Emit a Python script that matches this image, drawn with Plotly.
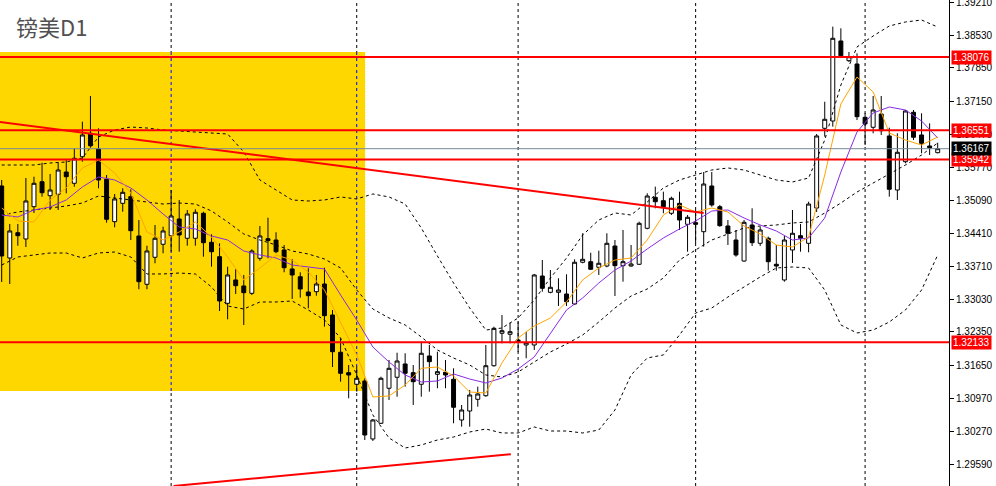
import plotly.graph_objects as go

# ---------------- data ----------------
opens = [1.3539, 1.33889, 1.34416, 1.34285, 1.34958, 1.35479, 1.35187, 1.35217, 1.35681, 1.35446,
         1.36, 1.36488, 1.36161, 1.35529, 1.34646, 1.35029, 1.35167, 1.34348, 1.33341, 1.33904,
         1.34175, 1.34354, 1.34702, 1.343, 1.343, 1.34821, 1.34216, 1.33916, 1.32945, 1.33431,
         1.33306, 1.33153, 1.33883, 1.34291, 1.34264, 1.34056, 1.3366, 1.33499, 1.3318, 1.33187,
         1.33347, 1.32701, 1.31924, 1.31499, 1.31257, 1.31326, 1.30117, 1.30444, 1.31174, 1.31403,
         1.3168, 1.31499, 1.31257, 1.31847, 1.31465, 1.31507, 1.31361, 1.30513, 1.307, 1.30944,
         1.31019, 1.31644, 1.3232, 1.32299, 1.3218, 1.32076, 1.32076, 1.33514, 1.33174, 1.33174,
         1.33139, 1.3293, 1.338, 1.33812, 1.33695, 1.33722, 1.34139, 1.33729, 1.33722, 1.33758,
         1.34508, 1.35154, 1.35083, 1.34821, 1.35029, 1.34591, 1.34625, 1.34437, 1.3539, 1.34958,
         1.34556, 1.34264, 1.33826, 1.34577, 1.34195, 1.343, 1.33758, 1.33431, 1.34056, 1.34354,
         1.34195, 1.34931, 1.36592, 1.36744, 1.38412, 1.38001, 1.37932, 1.36821, 1.36613, 1.3689,
         1.36432, 1.35306, 1.35896, 1.36926, 1.36453, 1.36223, 1.36084]
highs = [1.35515, 1.34598, 1.34598, 1.35556, 1.35583, 1.35875, 1.3564, 1.35875, 1.35931, 1.36175,
         1.3673, 1.37265, 1.36592, 1.35619, 1.35223, 1.35342, 1.35321, 1.34681, 1.34145, 1.34577,
         1.34541, 1.35306, 1.35098, 1.34889, 1.34904, 1.34854, 1.34383, 1.34195, 1.33708, 1.33654,
         1.33535, 1.3407, 1.34556, 1.34729, 1.34425, 1.3416, 1.33868, 1.33591, 1.33674, 1.33535,
         1.33687, 1.32805, 1.32216, 1.31659, 1.31624, 1.31382, 1.30534, 1.31415, 1.31763, 1.31915,
         1.31903, 1.31659, 1.32145, 1.32076, 1.31936, 1.31763, 1.3159, 1.30825, 1.31138, 1.31207,
         1.32076, 1.32457, 1.32701, 1.32541, 1.32561, 1.32353, 1.33556, 1.33847, 1.33639, 1.33466,
         1.33549, 1.33862, 1.34404, 1.33999, 1.34041, 1.34404, 1.34264, 1.34473, 1.3416, 1.34646,
         1.35237, 1.35375, 1.35271, 1.35167, 1.35271, 1.34785, 1.34889, 1.35681, 1.35681, 1.34994,
         1.34681, 1.34473, 1.34681, 1.34925, 1.34541, 1.34333, 1.3416, 1.34348, 1.34889, 1.34598,
         1.35062, 1.36473, 1.37146, 1.3871, 1.38676, 1.38182, 1.38155, 1.36911, 1.37265, 1.37265,
         1.36605, 1.36488, 1.36974, 1.36974, 1.36905, 1.36696, 1.36292]
lows = [1.33389, 1.33347, 1.34145, 1.34118, 1.34827, 1.35167, 1.34889, 1.34889, 1.35237, 1.35375,
        1.35896, 1.36188, 1.35342, 1.34625, 1.34529, 1.34854, 1.34264, 1.33237, 1.33237, 1.33779,
        1.33987, 1.3402, 1.3402, 1.34145, 1.34145, 1.33916, 1.33708, 1.32784, 1.32612, 1.33139,
        1.32493, 1.33118, 1.33833, 1.33883, 1.33987, 1.33591, 1.33035, 1.33062, 1.32841, 1.33103,
        1.32457, 1.31617, 1.31311, 1.30965, 1.31103, 1.30096, 1.30075, 1.30429, 1.3093, 1.30998,
        1.31207, 1.30825, 1.30998, 1.31103, 1.31174, 1.31174, 1.30444, 1.30373, 1.30373, 1.3079,
        1.30998, 1.31624, 1.32111, 1.32111, 1.3193, 1.31799, 1.31972, 1.33187, 1.33153, 1.32889,
        1.32889, 1.3291, 1.33779, 1.33639, 1.33535, 1.33695, 1.33097, 1.33395, 1.33708, 1.33743,
        1.34487, 1.34925, 1.34821, 1.34785, 1.34473, 1.3402, 1.34195, 1.34125, 1.34958, 1.34541,
        1.3416, 1.33916, 1.33812, 1.34139, 1.34139, 1.33624, 1.33624, 1.33395, 1.33785, 1.3402,
        1.34008, 1.34848, 1.36417, 1.36626, 1.38068, 1.37974, 1.36765, 1.36244, 1.36488, 1.36453,
        1.35167, 1.35098, 1.35863, 1.36348, 1.36071, 1.36036, 1.36071]
closes = [1.33931, 1.34452, 1.34354, 1.35077, 1.35446, 1.3525, 1.35306, 1.35723, 1.35583, 1.35967,
          1.36453, 1.36229, 1.35515, 1.34696, 1.35119, 1.35258, 1.34458, 1.33395, 1.34035, 1.343,
          1.34452, 1.34764, 1.34368, 1.34806, 1.34842, 1.34208, 1.3402, 1.32993, 1.33535, 1.33312,
          1.33166, 1.34035, 1.34348, 1.3425, 1.3402, 1.33687, 1.33535, 1.33243, 1.33103, 1.33347,
          1.32687, 1.31936, 1.31486, 1.31451, 1.31382, 1.302, 1.30513, 1.31382, 1.3159, 1.31742,
          1.31486, 1.31311, 1.31903, 1.31728, 1.3152, 1.31451, 1.30778, 1.30721, 1.31034, 1.31055,
          1.31644, 1.32424, 1.32374, 1.32353, 1.32145, 1.32124, 1.33535, 1.33258, 1.33278, 1.33222,
          1.32978, 1.338, 1.33862, 1.33654, 1.33779, 1.34195, 1.33729, 1.33812, 1.33764, 1.34612,
          1.35181, 1.35062, 1.34958, 1.35133, 1.34681, 1.34737, 1.34591, 1.35431, 1.34994, 1.34562,
          1.34404, 1.33952, 1.34633, 1.34208, 1.34473, 1.33812, 1.33722, 1.34264, 1.34404, 1.343,
          1.35014, 1.36432, 1.3678, 1.38468, 1.38105, 1.38084, 1.36834, 1.36682, 1.36974, 1.36542,
          1.35321, 1.36092, 1.36953, 1.36405, 1.36279, 1.36188, 1.36167]
bars = list(range(len(opens)))

# indicator readings, every second bar
ind_x = list(range(0, len(opens), 2))
bb_upper = [1.35827, 1.35827, 1.35827, 1.35869, 1.3589, 1.35973, 1.36411, 1.36557, 1.36619, 1.36598,
            1.36557, 1.36536, 1.36515, 1.36494, 1.36473, 1.36098, 1.35515, 1.35306, 1.35098, 1.35077,
            1.35098, 1.35161, 1.35119, 1.35223, 1.35161, 1.35014, 1.34514, 1.33931, 1.33368, 1.32847,
            1.32388, 1.3243, 1.32639, 1.33014, 1.33472, 1.33889, 1.34368, 1.34681, 1.34827, 1.34785,
            1.35056, 1.35348, 1.35515, 1.35619, 1.35723, 1.35765, 1.35723, 1.35619, 1.35515, 1.35473,
            1.35556, 1.36348, 1.37494, 1.38287, 1.38516, 1.38724, 1.38808, 1.38849, 1.38703]
bb_middle = [1.34785, 1.34848, 1.34889, 1.34931, 1.34973, 1.35035, 1.35181, 1.3514, 1.35098, 1.35056,
             1.35014, 1.35035, 1.35014, 1.34869, 1.3464, 1.34389, 1.34264, 1.3416, 1.34035, 1.33972,
             1.33868, 1.33681, 1.33222, 1.32826, 1.32639, 1.32493, 1.32243, 1.31972, 1.31805, 1.31659,
             1.31451, 1.31409, 1.31513, 1.31722, 1.3193, 1.32097, 1.32284, 1.32555, 1.32847, 1.33097,
             1.33243, 1.33472, 1.33847, 1.34056, 1.34264, 1.34389, 1.34514, 1.34556, 1.34577, 1.34619,
             1.3464, 1.34827, 1.35035, 1.35264, 1.35452, 1.3564, 1.35827, 1.36036, 1.36286]
bb_lower = [1.33743, 1.3391, 1.33952, 1.33993, 1.33993, 1.33889, 1.33993, 1.34014, 1.3391, 1.33556,
            1.33556, 1.33576, 1.33556, 1.33285, 1.32889, 1.32826, 1.32972, 1.32972, 1.32993, 1.32805,
            1.32597, 1.32222, 1.31451, 1.30617, 1.30138, 1.29929, 1.29992, 1.30096, 1.30158, 1.30263,
            1.30325, 1.30242, 1.30242, 1.30367, 1.30283, 1.30283, 1.30242, 1.30304, 1.30721, 1.31451,
            1.31805, 1.31868, 1.32284, 1.32743, 1.32847, 1.33076, 1.33285, 1.33493, 1.33681, 1.33702,
            1.33681, 1.33222, 1.32493, 1.32326, 1.32388, 1.32555, 1.32805, 1.33222, 1.33952]
ma_slow = [1.34785, 1.34744, 1.34889, 1.34952, 1.35098, 1.35369, 1.35577, 1.35515, 1.35348, 1.35098,
           1.34806, 1.34535, 1.34494, 1.34348, 1.34264, 1.34035, 1.33952, 1.33889, 1.33743, 1.33702,
           1.3366, 1.33118, 1.32597, 1.32034, 1.31722, 1.31451, 1.31305, 1.31326, 1.31472, 1.31367,
           1.31284, 1.31388, 1.31576, 1.31826, 1.32326, 1.32805, 1.33055, 1.33368, 1.33639, 1.33826,
           1.34077, 1.34306, 1.34494, 1.3466, 1.34869, 1.34889, 1.34723, 1.34577, 1.34452, 1.34264,
           1.34306, 1.34723, 1.35681, 1.36515, 1.36911, 1.37036, 1.36974, 1.36744, 1.3639]
ma_fast = [1.34931, 1.3466, 1.3464, 1.35098, 1.35348, 1.35765, 1.35931, 1.35661, 1.35244, 1.34431,
           1.34264, 1.34431, 1.3464, 1.34327, 1.3391, 1.33431, 1.33681, 1.33952, 1.33847, 1.33597,
           1.33222, 1.32555, 1.31868, 1.30992, 1.31013, 1.31242, 1.3159, 1.31617, 1.3143, 1.31096,
           1.31076, 1.31701, 1.32222, 1.32472, 1.32639, 1.32972, 1.33431, 1.33681, 1.33847, 1.33889,
           1.34264, 1.34785, 1.34994, 1.34848, 1.34931, 1.34848, 1.34556, 1.34389, 1.3416, 1.34118,
           1.34327, 1.35619, 1.37099, 1.37661, 1.37349, 1.36494, 1.36348, 1.36244, 1.36411]

# drawn objects
level_lines = [1.38076, 1.36551, 1.35942, 1.32133]
bid_price = 1.36167
trend1_x = [-1, 87]
trend1_y = [1.36740, 1.34827]
trend2_x = [21.3, 63.1]
trend2_y = [1.29137, 1.29798]
box_x = [-1, 45.04]
box_y = [1.31117, 1.38182]
period_sep = [21, 44, 64, 86, 107]

tick_vals = [1.39210, 1.38530, 1.37850, 1.37150, 1.36470, 1.35770, 1.35090, 1.34410,
             1.33710, 1.33030, 1.32350, 1.31650, 1.30970, 1.30270, 1.29590]
tick_text = ["%.5f" % v for v in tick_vals]
y_range = [1.29137, 1.39266]
x_range = [-0.21, 117.4]

# ---------------- figure ----------------
fig = go.Figure()

fig.add_trace(go.Scatter(x=ind_x, y=bb_upper, mode="lines",
                         line=dict(color="black", width=1, dash="dot"), hoverinfo="skip"))
fig.add_trace(go.Scatter(x=ind_x, y=bb_middle, mode="lines",
                         line=dict(color="black", width=1, dash="dot"), hoverinfo="skip"))
fig.add_trace(go.Scatter(x=ind_x, y=bb_lower, mode="lines",
                         line=dict(color="black", width=1, dash="dot"), hoverinfo="skip"))

fig.add_trace(go.Candlestick(
    x=bars, open=opens, high=highs, low=lows, close=closes,
    increasing=dict(line=dict(color="black", width=1), fillcolor="white"),
    decreasing=dict(line=dict(color="black", width=1), fillcolor="black"),
    whiskerwidth=0, hoverinfo="skip"))

fig.add_trace(go.Scatter(x=ind_x, y=ma_slow, mode="lines",
                         line=dict(color="#8A2BE2", width=1), hoverinfo="skip"))
fig.add_trace(go.Scatter(x=ind_x, y=ma_fast, mode="lines",
                         line=dict(color="#FFA500", width=1), hoverinfo="skip"))

fig.add_trace(go.Scatter(x=trend1_x, y=trend1_y, mode="lines",
                         line=dict(color="#FF0000", width=2), hoverinfo="skip"))
fig.add_trace(go.Scatter(x=trend2_x, y=trend2_y, mode="lines",
                         line=dict(color="#FF0000", width=2), hoverinfo="skip"))

shapes = []
shapes.append(dict(type="rect", xref="x", yref="y", x0=box_x[0], x1=box_x[1],
                   y0=box_y[0], y1=box_y[1], fillcolor="#FFD700",
                   line=dict(width=0), layer="below"))
for s in period_sep:
    shapes.append(dict(type="line", xref="x", yref="paper", x0=s, x1=s, y0=0, y1=1,
                       line=dict(color="black", width=1, dash="dot"), layer="below"))
    if box_x[0] <= s <= box_x[1]:
        shapes.append(dict(type="line", xref="x", yref="y", x0=s, x1=s,
                           y0=box_y[0], y1=box_y[1],
                           line=dict(color="#0000FF", width=1, dash="dot"), layer="below"))
for lv in level_lines:
    shapes.append(dict(type="line", xref="paper", yref="y", x0=0, x1=1, y0=lv, y1=lv,
                       line=dict(color="#FF0000", width=2), layer="above"))
shapes.append(dict(type="line", xref="paper", yref="y", x0=0, x1=1, y0=bid_price, y1=bid_price,
                   line=dict(color="#778899", width=1), layer="above"))

annotations = []
for lv in level_lines:
    annotations.append(dict(x=1, xref="paper", y=lv, yref="y", xanchor="left", yanchor="middle",
                            xshift=2, text="%.5f" % lv, showarrow=False, bgcolor="#FF0000",
                            borderpad=1, font=dict(family="Liberation Sans", size=10, color="white")))
annotations.append(dict(x=1, xref="paper", y=bid_price, yref="y", xanchor="left", yanchor="middle",
                        xshift=2, text="%.5f" % bid_price, showarrow=False, bgcolor="black",
                        borderpad=1, font=dict(family="Liberation Sans", size=10, color="white")))
annotations.append(dict(x=0, xref="paper", y=1, yref="paper", xanchor="left", yanchor="top",
                        xshift=14, yshift=-8, text="镑美D1", showarrow=False,
                        font=dict(family="Noto Sans CJK SC", size=22, color="#505050")))

fig.update_layout(
    width=996, height=486,
    margin=dict(l=0, r=47, t=0, b=0, autoexpand=False),
    paper_bgcolor="white", plot_bgcolor="white",
    showlegend=False,
    shapes=shapes, annotations=annotations,
    xaxis=dict(range=x_range, visible=False, rangeslider=dict(visible=False),
               showgrid=False, zeroline=False),
    yaxis=dict(side="right", range=y_range, tickvals=tick_vals, ticktext=tick_text,
               ticks="outside", ticklen=4, tickcolor="black", showline=True,
               linecolor="black", linewidth=1, showgrid=False, zeroline=False,
               ticklabeloverflow="allow",
               tickfont=dict(family="Liberation Sans", size=10, color="black")),
)

fig.write_html("out.html", config={"displayModeBar": False},
               post_script="document.body.style.margin='0';document.body.style.padding='0';")
